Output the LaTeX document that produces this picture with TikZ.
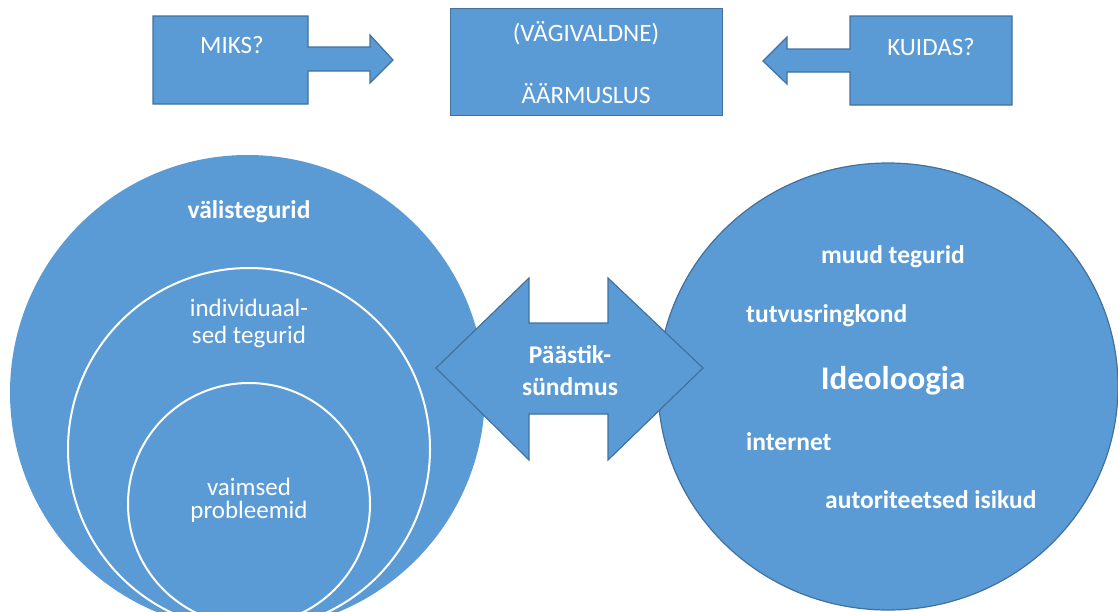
\documentclass[tikz,border=0pt]{standalone}
\usepackage{fontspec}
\setmainfont{Carlito}
\usetikzlibrary{shapes.geometric}
\definecolor{fillblue}{HTML}{5B9BD5}
\definecolor{edgeblue}{HTML}{41719C}
\tikzset{
  shapefill/.style={fill=fillblue, draw=edgeblue, line width=1.2pt, line join=miter},
  lbl/.style={text=white, font=\fontsize{25.5}{30}\selectfont\bfseries, inner sep=0pt, anchor=base},
  lblw/.style={lbl, anchor=base west},
  lblr/.style={text=white, font=\fontsize{25}{30}\selectfont, inner sep=0pt, anchor=base},
  toplbl/.style={text=white, font=\fontsize{25}{30}\selectfont, inner sep=0pt, anchor=base},
  ring/.style={circle, fill=fillblue, draw=white, line width=2pt, inner sep=0pt},
}
\begin{document}
\begin{tikzpicture}[x=1pt,y=-1pt]
\useasboundingbox (0,0) rectangle (1118,611);
\clip (0,0) rectangle (1118,611);
% top row
\draw[shapefill] (153,16) -- (308,16) -- (308,47) -- (370,47) -- (370,35) -- (393,60) -- (370,83) -- (370,71) -- (308,71) -- (308,104) -- (153,104) -- cycle;
\node[toplbl] (miks) at (232,53) {MIKS?};
\node[shapefill, minimum width=272pt, minimum height=107pt, anchor=north west, inner sep=0pt] (center) at (450,8) {};
\node[toplbl] (vagi) at (586,41) {(VÄGIVALDNE)};
\node[toplbl] (aar) at (586,103) {ÄÄRMUSLUS};
\draw[shapefill] (1012,16) -- (850,16) -- (850,49) -- (787,49) -- (787,37) -- (763,61) -- (787,84) -- (787,72) -- (850,72) -- (850,105) -- (1012,105) -- cycle;
\node[toplbl] (kuidas) at (931,55) {KUIDAS?};
% left circles
\node[circle, fill=fillblue, minimum size=475pt, inner sep=0pt] (outer) at (247.5,392.5) {};
\node[ring, minimum size=362pt] (mid) at (249,449) {};
\node[ring, minimum size=242pt] (inner) at (249,504) {};
\node[lbl] (t1) at (249,218) {välistegurid};
\node[lblr] (t2) at (249,316) {individuaal-};
\node[lblr] (t3) at (249,343) {sed tegurid};
\node[lblr] (t4) at (249,495) {vaimsed};
\node[lblr] (t5) at (249,518) {probleemid};
% right ellipse
\node[ellipse, shapefill, minimum width=460pt, minimum height=447pt, inner sep=0pt] (right) at (888,386.5) {};
\node[lbl] (r1) at (893,263) {muud tegurid};
\node[lblw] (r2) at (746,322) {tutvusringkond};
\node[lbl, font=\fontsize{33}{38}\selectfont\bfseries] (r3) at (893,389) {Ideoloogia};
\node[lblw] (r4) at (746,450) {internet};
\node[lblw] (r5) at (825,508) {autoriteetsed isikud};
% double arrow
\draw[shapefill] (436,368) -- (529,278) -- (529,323) -- (608,323) -- (608,278) -- (703,368) -- (608,460) -- (608,414) -- (529,414) -- (529,460) -- cycle;
\node[lbl] (p1) at (570,363) {Päästik-};
\node[lbl] (p2) at (570,395) {sündmus};
\end{tikzpicture}
\end{document}
